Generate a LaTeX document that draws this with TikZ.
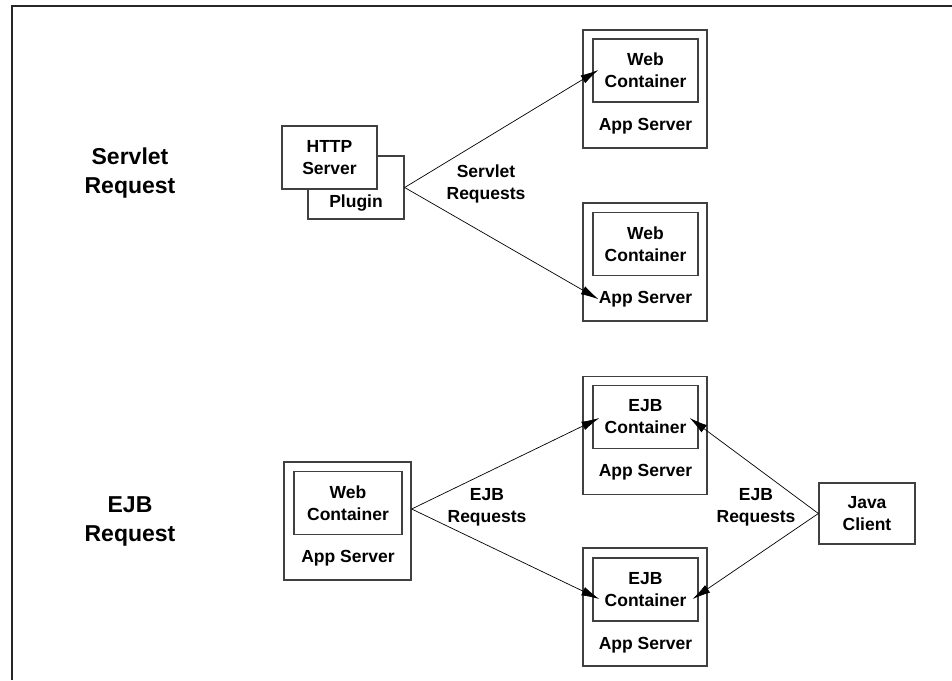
\documentclass[tikz,border=0pt]{standalone}
\usepackage{fontspec}
\setmainfont{Liberation Sans}
\usetikzlibrary{arrows.meta, positioning, calc}

\begin{document}
\begin{tikzpicture}[
    x=1pt, y=-1pt,
    font=\fontsize{17.5}{22}\selectfont\bfseries,
    server/.style={draw=black!75, line width=1.3pt, fill=white,
                   minimum width=124pt, minimum height=118pt, inner sep=0pt},
    cont/.style={draw=black!75, line width=1.3pt, fill=white, align=center,
                 minimum width=105pt, minimum height=63pt, inner sep=0pt},
    unit/.style={draw=black!75, line width=1.3pt, fill=white, align=center,
                 minimum width=96pt, minimum height=63pt, inner sep=0pt},
    lbl/.style={inner sep=0pt},
    req/.style={align=center, inner sep=0pt},
    big/.style={font=\fontsize{23}{29}\selectfont\bfseries, align=center, inner sep=0pt},
    ar/.style={-{Latex[length=18pt,width=9pt]}, line width=0.7pt, draw=black}
  ]
    \useasboundingbox (0,0) rectangle (952,680);
    \draw[line width=2pt, black!85] (12,680) -- (12,6) -- (952,6);

    % servlet request
    \node[big] (servlet) at (130,173) {Servlet\\Request};
    \node[unit] (plugin) at (356,187.5) {};
    \node[lbl] (plugtxt) [above=8pt of plugin.south] {Plugin};
    \node[unit, minimum width=95pt] (http) at (329.5,157.5) {HTTP\\Server};

    \node[server] (srv1) at (645,89) {};
    \node[cont] (web1) at (645.5,70.5) {Web\\Container};
    \node[lbl] (as1) [below=15pt of web1] {App Server};

    \node[server] (srv2) at (645,262) {};
    \node[cont] (web2) at (645.5,244) {Web\\Container};
    \node[lbl] (as2) [below=15pt of web2] {App Server};

    \node[req] (sreq) at (486,184) {Servlet\\Requests};

    \draw[ar] (plugin.east) -- ($(web1.west)+(6,-0.5)$);
    \draw[ar] (plugin.east) -- (as2.west);

    % ejb request
    \node[big] (ejb) at (130,521) {EJB\\Request};
    \node[server, minimum width=127pt] (srv5) at (347.5,521) {};
    \node[cont, minimum width=108pt] (web5) at (348,503) {Web\\Container};
    \node[lbl] (as5) [below=15pt of web5] {App Server};

    \node[server] (srv3) at (645,435.5) {};
    \node[cont] (ejb3) at (645.5,417) {EJB\\Container};
    \node[lbl] (as3) [below=15pt of ejb3] {App Server};

    \node[server] (srv4) at (645,607) {};
    \node[cont] (ejb4) at (645.5,589.5) {EJB\\Container};
    \node[lbl] (as4) [below=15pt of ejb4] {App Server};

    \node[unit, minimum height=61pt] (client) at (867,513.5) {Java\\Client};

    \node[req] (ereq1) at (487,507) {EJB\\Requests};
    \node[req] (ereq2) at (756,507) {EJB\\Requests};

    \draw[ar] ($(srv5.east)+(0,-12)$) -- ($(ejb3.west)+(7,1)$);
    \draw[ar] ($(srv5.east)+(0,-12)$) -- ($(ejb4.west)+(7,9.5)$);
    \draw[ar] (client.west) -- ($(ejb3.east)+(-9,1)$);
    \draw[ar] (client.west) -- ($(ejb4.east)+(-6,9.5)$);
  \end{tikzpicture}
\end{document}
